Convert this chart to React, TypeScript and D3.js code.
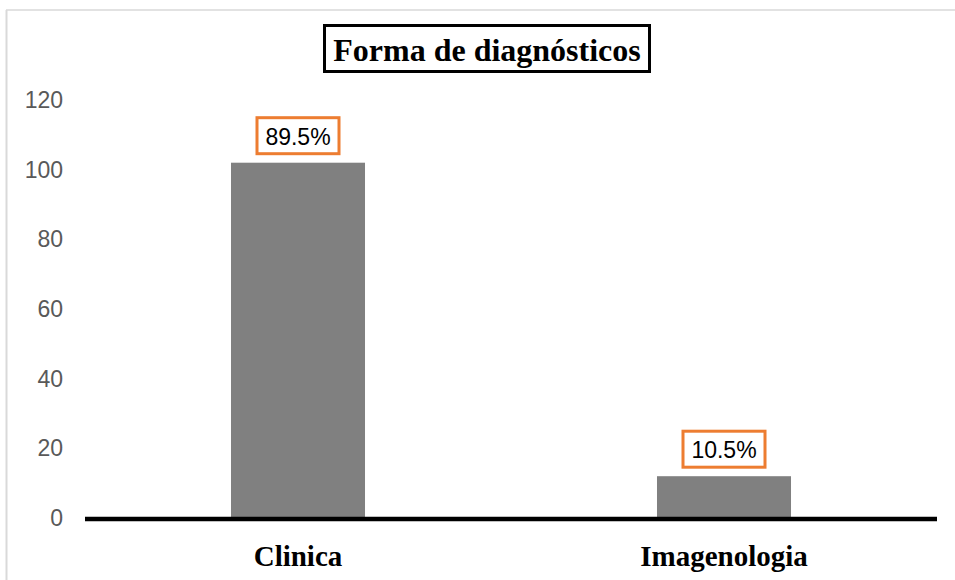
import React from "react";
import * as d3 from "d3";

const categories = ["Clinica", "Imagenologia"];
const values = [102, 12];
const valueLabels = ["89.5%", "10.5%"];
const yTicks = [0, 20, 40, 60, 80, 100, 120];
const title = "Forma de diagnósticos";

export default function App() {
  const W = 955, H = 580;
  const x = d3.scaleBand<string>().domain(categories).range([85, 937]).paddingInner(0.6854).paddingOuter(0.3427);
  const y = d3.scaleLinear().domain([0, 120]).range([518, 100]);
  return (
    <svg width={W} height={H} style={{ position: "absolute", left: 0, top: 0 }}>
      <rect x={0} y={0} width={W} height={H} fill="#fff" />
      <line x1={6} y1={10} x2={955} y2={10} stroke="#D9D9D9" strokeWidth={1.5} />
      <line x1={6.5} y1={10} x2={6.5} y2={580} stroke="#D9D9D9" strokeWidth={2} />
      <rect x={324.5} y={25.5} width={325} height={46} fill="#fff" stroke="#000" strokeWidth={3} />
      <text x={487} y={61} textAnchor="middle" fontFamily="'Liberation Serif', 'Times New Roman', serif" fontWeight="bold" fontSize={32} fill="#000">{title}</text>
      {yTicks.map((t) => (
        <text key={t} x={63} y={y(t) + 8} textAnchor="end" fontFamily="'Liberation Sans', Arial, sans-serif" fontSize={23} fill="#595959">{t}</text>
      ))}
      {categories.map((c, i) => (
        <rect key={c} x={x(c)} y={y(values[i])} width={x.bandwidth()} height={y(0) - y(values[i])} fill="#808080" />
      ))}
      <line x1={85} y1={519} x2={937} y2={519} stroke="#000" strokeWidth={4.5} />
      {categories.map((c, i) => {
        const cx = (x(c) as number) + x.bandwidth() / 2;
        const top = y(values[i]);
        return (
          <g key={c + "l"}>
            <rect x={cx - 41} y={top - 45} width={82} height={36} fill="#fff" stroke="#ED7D31" strokeWidth={3} />
            <text x={cx} y={top - 18} textAnchor="middle" fontFamily="'Liberation Sans', Arial, sans-serif" fontSize={23} fill="#000">{valueLabels[i]}</text>
          </g>
        );
      })}
      {categories.map((c) => (
        <text key={c + "c"} x={(x(c) as number) + x.bandwidth() / 2} y={566} textAnchor="middle" fontFamily="'Liberation Serif', 'Times New Roman', serif" fontWeight="bold" fontSize={29} fill="#000">{c}</text>
      ))}
    </svg>
  );
}
